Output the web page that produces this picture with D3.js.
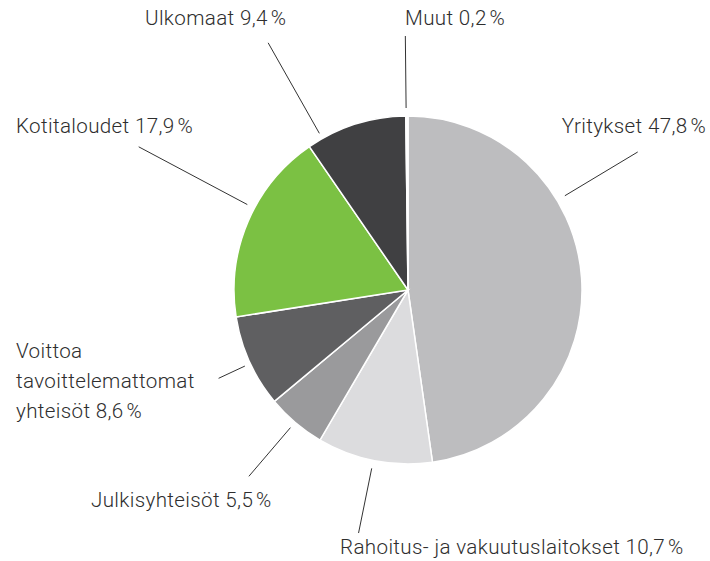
<!doctype html>
<html lang="fi">
<head>
  <meta charset="utf-8">
  <title>Pie chart</title>
  <style>
    html, body { margin: 0; padding: 0; background: #fff; }
    svg { display: block; }
    .label { font-family: Roboto, 'Noto Sans', sans-serif; font-weight: 300; font-size: 20.6px; letter-spacing: 0.35px; fill: #2e2e2e; }
    .leader { stroke: #333; stroke-width: 1; fill: none; }
  </style>
</head>
<body>
  <svg id="chart" width="710" height="561"></svg>
  <script src="https://d3js.org/d3.v7.min.js"></script>
  <script>
    // data
    const categories = ["Yritykset", "Rahoitus- ja vakuutuslaitokset", "Julkisyhteisöt",
      "Voittoa tavoittelemattomat yhteisöt", "Kotitaloudet", "Ulkomaat", "Muut"];
    const shares = [47.8, 10.7, 5.5, 8.6, 17.9, 9.4, 0.2];
    const colors = ["#bdbdbf", "#dcdcde", "#9a9a9c", "#5f5f61", "#7bc143", "#404042", "#ffffff"];

    // label layout: text lines, anchor position, leader angle (deg from top) and radii
    const labelLines = [
      ["Yritykset 47,8\u202F%"],
      ["Rahoitus- ja vakuutuslaitokset 10,7\u202F%"],
      ["Julkisyhteisöt 5,5\u202F%"],
      ["Voittoa", "tavoittelemattomat", "yhteisöt 8,6\u202F%"],
      ["Kotitaloudet 17,9\u202F%"],
      ["Ulkomaat 9,4\u202F%"],
      ["Muut 0,2\u202F%"]
    ];
    const labelPos = [
      { x: 706, y: 133, anchor: "end" },
      { x: 340, y: 554, anchor: "start" },
      { x: 91, y: 507, anchor: "start" },
      { x: 16, y: 358, anchor: "start" },
      { x: 16, y: 133, anchor: "start" },
      { x: 145, y: 25, anchor: "start" },
      { x: 405, y: 25, anchor: "start" }
    ];
    const leaderAngle = [59, 191.5, 220.5, 245, 298, 330.5, 359.4];
    const leaderInner = [183, 182, 181, 180, 182, 180, 182];
    const leaderOuter = [268, 248, 245, 209, 305, 284, 254];

    const cx = 408, cy = 290, radius = 174;
    const svg = d3.select("#chart");
    const g = svg.append("g").attr("transform", `translate(${cx},${cy})`);

    const pie = d3.pie().sort(null).value(d => d);
    const arc = d3.arc().innerRadius(0).outerRadius(radius);

    g.selectAll("path.slice")
      .data(pie(shares))
      .enter().append("path")
      .attr("class", "slice")
      .attr("d", arc)
      .attr("fill", (d, i) => colors[i])
      .attr("stroke", "#fff")
      .attr("stroke-width", 1.5);

    // leader lines
    const rad = a => a * Math.PI / 180;
    g.selectAll("line.leader")
      .data(categories)
      .enter().append("line")
      .attr("class", "leader")
      .attr("x1", (d, i) => leaderInner[i] * Math.sin(rad(leaderAngle[i])))
      .attr("y1", (d, i) => -leaderInner[i] * Math.cos(rad(leaderAngle[i])))
      .attr("x2", (d, i) => leaderOuter[i] * Math.sin(rad(leaderAngle[i])))
      .attr("y2", (d, i) => -leaderOuter[i] * Math.cos(rad(leaderAngle[i])));

    // labels
    const labels = svg.selectAll("text.label")
      .data(categories)
      .enter().append("text")
      .attr("class", "label")
      .attr("text-anchor", (d, i) => labelPos[i].anchor);

    labels.each(function (d, i) {
      const t = d3.select(this);
      labelLines[i].forEach((line, j) => {
        t.append("tspan")
          .attr("x", labelPos[i].x)
          .attr("y", labelPos[i].y + j * 30)
          .text(line);
      });
    });
  </script>
</body>
</html>
